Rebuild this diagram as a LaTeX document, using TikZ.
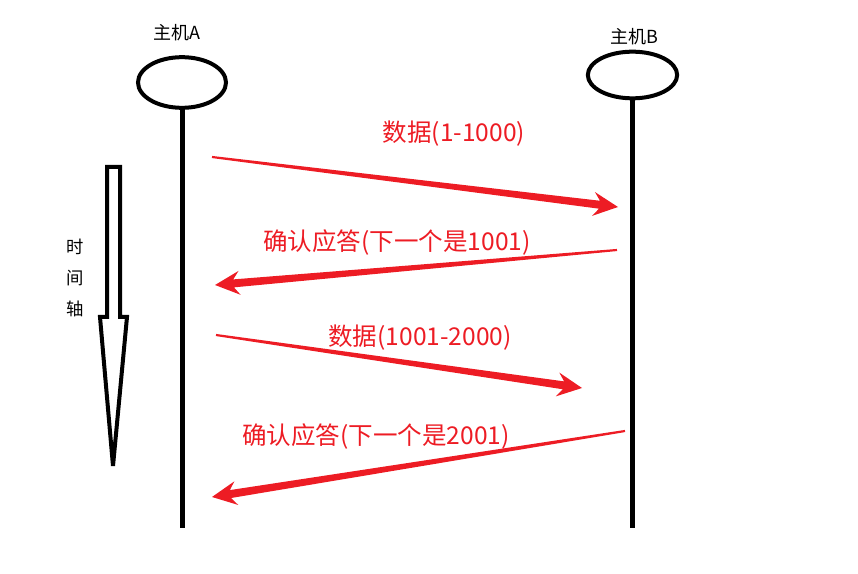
\documentclass[tikz,border=0pt]{standalone}
\usepackage{fontspec}
\newfontfamily\cjk{Noto Sans CJK SC}
\usetikzlibrary{shapes.geometric,calc}
\definecolor{msgred}{RGB}{237,28,36}
\tikzset{
  host/.style={ellipse,draw,line width=3pt,inner sep=0pt},
  lifeline/.style={line width=3.75pt},
  msg/.style={fill=msgred},
  msglabel/.style={text=msgred,font=\cjk\fontsize{18.4}{21}\selectfont,inner sep=0pt},
  hostlabel/.style={font=\cjk\fontsize{13.5}{16}\selectfont,inner sep=0pt}
}
% tapered red message arrow from #1 to #2
\newcommand{\msgarrow}[2]{%
  \coordinate (neck) at ($(#2)!14pt!(#1)$);
  \coordinate (barb) at ($(#2)!18.5pt!(#1)$);
  \fill[msg] ($(#1)!0.8pt!90:(#2)$) -- ($(neck)!3pt!90:(#2)$) -- ($(barb)!9pt!90:(#2)$)
    -- (#2) -- ($(barb)!9pt!-90:(#2)$) -- ($(neck)!3pt!-90:(#2)$) -- ($(#1)!0.8pt!-90:(#2)$) -- cycle;
}

\begin{document}
\begin{tikzpicture}[x=0.75pt,y=0.75pt,yscale=-1]
\useasboundingbox (0,0) rectangle (858,574);

%Shape: Ellipse
\node[host,minimum width=66pt,minimum height=38pt] (hostA) at (182,82.5) {};
\node[host,minimum width=67pt,minimum height=35pt] (hostB) at (632.5,75) {};

% Text Node
\node[hostlabel] (nameA) at (177,33) {主机A};
\node[hostlabel] (nameB) at (634,37) {主机B};

%Straight Lines
\coordinate (endA) at (182,528);
\coordinate (endB) at (632.5,528);
\draw[lifeline] (hostA.south) -- (endA);
\draw[lifeline] (hostB.south) -- (endB);

%Shape: time axis arrow
\draw[line width=3pt] (107,167) -- (120,167) -- (120,317) -- (127,317) -- (113,466) -- (100,317) -- (107,317) -- cycle;

% Text Node
\node[font=\cjk\fontsize{13}{23}\selectfont,align=center,inner sep=0pt] (axis) at (75,278) {时\\间\\轴};

%Straight Lines: messages
\coordinate (s1) at (212,157);
\coordinate (e1) at (618,207);
\coordinate (s2) at (617,250);
\coordinate (e2) at (215,285);
\coordinate (s3) at (216,335);
\coordinate (e3) at (582,388);
\coordinate (s4) at (625,431);
\coordinate (e4) at (212,497);
\msgarrow{s1}{e1}
\msgarrow{s2}{e2}
\msgarrow{s3}{e3}
\msgarrow{s4}{e4}

% Text Node
\node[msglabel] (data1) at (454,134) {数据(1-1000)};
\node[msglabel] (ack1) at (397,243) {确认应答(下一个是1001)};
\node[msglabel] (data2) at (420,338) {数据(1001-2000)};
\node[msglabel] (ack2) at (376,437) {确认应答(下一个是2001)};

\end{tikzpicture}
\end{document}
